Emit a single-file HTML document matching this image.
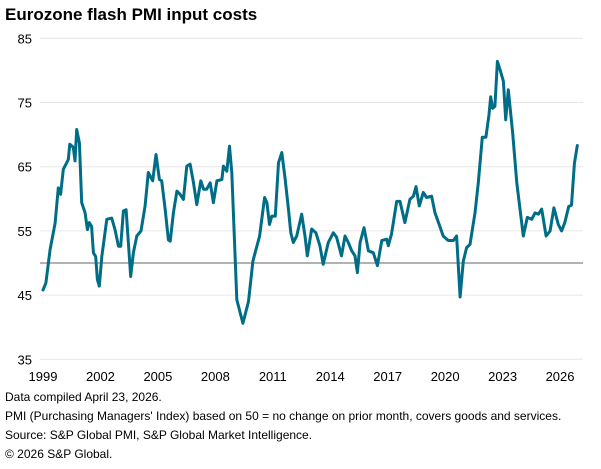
<!DOCTYPE html>
<html><head><meta charset="utf-8">
<style>
body{margin:0;background:#fff;font-family:"Liberation Sans",Arial,sans-serif;}
#wrap{position:relative;width:601px;height:469px;overflow:hidden;}
.t{position:absolute;white-space:nowrap;color:#000;}
</style></head>
<body><div id="wrap">
<div class="t" style="left:5px;top:5px;font-size:17px;font-weight:bold;">Eurozone flash PMI input costs</div>
<svg id="chart" width="601" height="469" style="position:absolute;left:0;top:0"></svg>
<div class="t" style="left:5px;top:390px;font-size:12px;">Data compiled April 23, 2026.</div>
<div class="t" style="left:5px;top:409px;font-size:12px;">PMI (Purchasing Managers' Index) based on 50 = no change on prior month, covers goods and services.</div>
<div class="t" style="left:5px;top:428px;font-size:12px;">Source: S&amp;P Global PMI, S&amp;P Global Market Intelligence.</div>
<div class="t" style="left:5px;top:447px;font-size:12px;">© 2026 S&amp;P Global.</div>
</div>
<script>
const years=[1999.0,1999.15,1999.37,1999.63,1999.8,1999.92,2000.06,2000.32,2000.4,2000.58,2000.67,2000.76,2000.9,2001.02,2001.2,2001.32,2001.42,2001.54,2001.63,2001.75,2001.84,2001.94,2002.07,2002.33,2002.59,2002.76,2002.94,2003.06,2003.2,2003.34,2003.58,2003.72,2003.9,2004.12,2004.33,2004.5,2004.73,2004.9,2005.08,2005.2,2005.38,2005.55,2005.64,2005.81,2005.99,2006.16,2006.33,2006.51,2006.68,2006.86,2007.03,2007.24,2007.38,2007.55,2007.73,2007.9,2008.08,2008.34,2008.42,2008.6,2008.74,2008.86,2009.12,2009.44,2009.73,2009.96,2010.31,2010.57,2010.69,2010.83,2010.95,2011.13,2011.3,2011.47,2011.65,2011.82,2011.94,2012.07,2012.25,2012.51,2012.68,2012.8,2013.03,2013.25,2013.46,2013.63,2013.9,2014.16,2014.33,2014.59,2014.77,2014.94,2015.12,2015.29,2015.42,2015.56,2015.76,2015.99,2016.25,2016.46,2016.69,2016.95,2017.03,2017.2,2017.47,2017.64,2017.9,2018.16,2018.34,2018.48,2018.65,2018.86,2019.03,2019.29,2019.47,2019.69,2019.9,2020.16,2020.43,2020.6,2020.78,2020.95,2021.12,2021.3,2021.56,2021.73,2021.94,2022.13,2022.29,2022.38,2022.48,2022.6,2022.73,2022.87,2023.04,2023.16,2023.3,2023.53,2023.74,2023.91,2024.08,2024.29,2024.52,2024.69,2024.87,2025.04,2025.27,2025.48,2025.68,2025.91,2026.08,2026.25,2026.45,2026.6,2026.75,2026.9];
const values=[45.8,46.9,52.1,56.2,61.7,60.7,64.6,66.1,68.5,68,65.9,70.8,68.7,59.4,57.8,55.2,56.3,55.7,51.6,51,47.4,46.4,51,56.8,57,55.2,52.6,52.6,58.1,58.3,47.9,51.6,54.2,55,58.9,64.1,62.8,66.9,63,62.8,58.3,53.6,53.4,57.8,61.2,60.7,59.9,65.1,65.4,62.5,59.1,62.8,61.5,61.5,62.5,59.4,62.8,63,65.1,64.3,68.2,64.1,44.3,40.6,44,50.3,54.2,60.2,59.4,56,57.3,57.3,65.6,67.2,63,58.3,54.7,53.2,54.2,57.6,54.2,51.1,55.3,54.7,52.7,49.8,53.2,54.7,54,51.1,54.2,53.2,51.9,51.1,48.5,53.2,55.5,51.9,51.6,49.6,53.5,53.7,52.7,54.5,59.6,59.6,56.3,59.9,60.4,61.9,58.9,61,60.2,60.4,57.8,56,54.2,53.5,53.5,54.2,44.7,50.3,52.4,52.9,57.8,62.5,69.6,69.6,73.1,75.9,74.1,74.4,81.4,80.1,78.3,72.3,77,70.2,62.5,58.4,54.2,57.1,56.8,57.8,57.6,58.4,54.2,55,58.6,56,55,56.3,58.8,59,65.5,68.3];
const yTicks=[35,45,55,65,75,85];
const xTickLabels=["1999","2002","2005","2008","2011","2014","2017","2020","2023","2026"];
const NS="http://www.w3.org/2000/svg";
const svg=document.getElementById('chart');
const xS=yr=>43+(yr-1999)*19.15;
const yS=v=>263-(v-50)*6.42;
function mk(tag,attrs){const e=document.createElementNS(NS,tag);for(const k in attrs)e.setAttribute(k,attrs[k]);svg.appendChild(e);return e;}
yTicks.forEach(v=>{
  const g=mk('line',{x1:40,x2:583,y1:yS(v),y2:yS(v),stroke:'#e6e6e6','stroke-width':1});
  
  
  const t=mk('text',{x:32,y:yS(v)+5,'text-anchor':'end','font-size':13,'font-family':'Liberation Sans, sans-serif',fill:'#000'});
  t.textContent=v;
  
  
});
const ref=mk('line',{x1:40,x2:583,y1:yS(50),y2:yS(50),stroke:'#999','stroke-width':1.5});


xTickLabels.forEach(l=>{
  const t=mk('text',{x:xS(+l),y:381,'text-anchor':'middle','font-size':13,'font-family':'Liberation Sans, sans-serif',fill:'#000'});
  t.textContent=l;
  
  
});
const d=years.map((yr,i)=>(i?'L':'M')+xS(yr).toFixed(1)+' '+yS(values[i]).toFixed(1)).join(' ');
const p=mk('path',{d:d,fill:'none',stroke:'#006d87','stroke-width':3,'stroke-linejoin':'round','stroke-linecap':'round'});


</script>
</body></html>
